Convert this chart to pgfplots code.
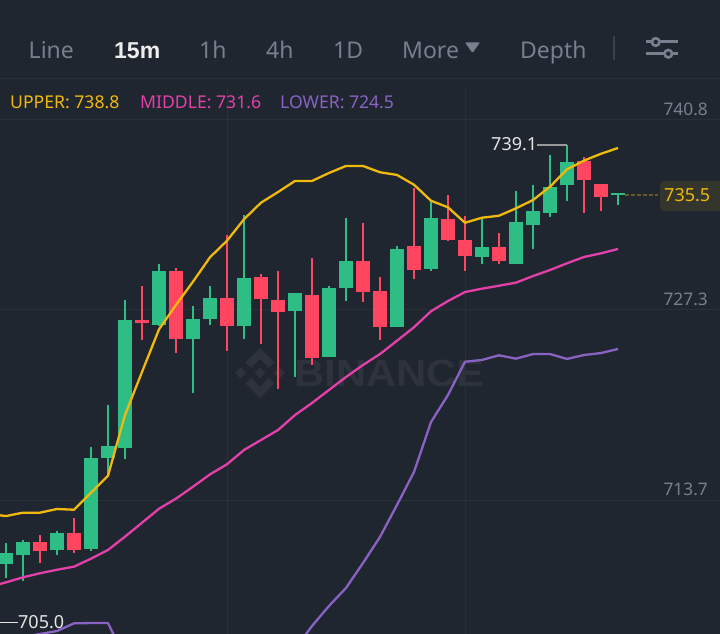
\documentclass[border=0pt]{standalone}
\usepackage{pgfplots}
\usepackage{pgfplotstable}
\usepackage{fontspec}
\setmainfont{Noto Sans}
\newfontfamily\boldf{Liberation Sans}
\pgfplotsset{compat=1.18}
\definecolor{bg}{HTML}{1F2630}
\definecolor{gridc}{HTML}{2A303A}
\definecolor{up}{HTML}{2EBD85}
\definecolor{down}{HTML}{FF4560}
\definecolor{yel}{HTML}{F0B90B}
\definecolor{mag}{HTML}{E440AA}
\definecolor{pur}{HTML}{8A62C4}
\definecolor{grayt}{HTML}{76808F}
\definecolor{wm}{HTML}{2E323C}
\pgfplotstableread{
x bot top low high
0 709.17 709.95 708.17 710.67
1 709.85 710.76 707.98 710.90
3 710.17 711.38 709.85 711.56
5 710.26 716.77 710.14 717.55
6 716.77 717.60 715.46 720.53
7 717.48 726.59 716.68 728.01
9 726.25 730.08 726.16 730.58
11 725.25 726.66 721.38 727.59
12 726.66 728.18 726.23 729.01
14 726.16 729.58 725.25 734.07
17 727.25 728.49 722.54 728.51
19 723.97 728.87 723.95 729.01
20 728.87 730.79 727.96 733.86
23 726.07 731.67 726.07 731.86
25 730.25 733.86 730.08 735.09
28 731.08 731.77 730.58 733.81
30 730.58 733.57 730.58 735.79
31 733.38 734.36 731.67 736.19
32 734.20 736.05 733.95 738.37
33 736.19 737.85 735.09 739.06
36 735.52 735.62 734.77 735.62
}\greentable
\pgfplotstableread{
x bot top low high
2 710.14 710.76 709.28 711.26
4 710.17 711.38 709.97 712.47
8 726.37 726.59 725.16 729.01
10 725.25 730.08 724.26 730.27
13 726.16 728.18 724.38 732.67
15 728.06 729.67 724.88 729.87
16 727.16 728.01 721.67 730.08
18 723.88 728.37 723.38 731.01
21 728.56 730.79 727.87 733.48
22 726.07 728.68 725.16 729.67
24 730.17 731.86 729.49 736.00
26 732.27 733.77 732.24 735.50
27 731.17 732.29 730.08 734.00
29 730.77 731.77 730.58 732.79
34 736.59 737.95 734.20 738.19
35 735.38 736.28 734.38 736.28
}\redtable
\pgfplotstableread{
x upper middle lower
-1 712.75 707.55 702.34
0 712.61 707.88 703.77
1 712.85 708.24 703.99
2 712.85 708.53 704.20
3 713.11 708.78 704.41
4 713.06 709.00 704.96
5 714.27 709.57 704.98
6 715.49 710.19 704.98
7 719.81 711.14 702.49
8 722.88 712.13 701.42
9 725.92 713.13 700.35
10 727.66 713.85 700.06
11 729.32 714.70 700.06
12 731.06 715.58 700.13
13 732.24 716.30 700.35
14 733.77 717.32 700.85
15 734.95 718.03 701.13
16 735.71 718.74 701.77
17 736.50 719.81 703.13
18 736.50 720.67 704.77
19 737.07 721.60 706.20
20 737.57 722.52 707.48
21 737.57 723.38 709.26
22 737.12 724.16 711.12
23 736.93 725.11 713.40
24 736.23 726.07 715.75
25 735.09 727.21 719.31
26 734.62 727.94 721.24
27 733.52 728.58 723.61
28 733.88 728.82 723.74
29 734.02 729.03 724.07
30 734.55 729.25 723.83
31 735.14 729.72 724.16
32 736.09 730.15 724.16
33 737.33 730.63 723.81
34 737.95 731.08 724.09
35 738.44 731.34 724.23
36 738.85 731.65 724.52
}\bandtable
\newcommand{\candles}[2]{%
 \addplot[draw=none,mark=none,forget plot,error bars/.cd,y dir=plus,y explicit,error mark=none,
   error bar style={line width=2pt,color=#2}]
   table[x=x,y=low,y error plus expr=\thisrow{high}-\thisrow{low}]{#1};
 \addplot[draw=none,mark=none,forget plot,error bars/.cd,y dir=plus,y explicit,error mark=none,
   error bar style={line width=14pt,color=#2}]
   table[x=x,y=bot,y error plus expr=\thisrow{top}-\thisrow{bot}]{#1};
}
\begin{document}
\begin{tikzpicture}[x=1pt,y=1pt]
\useasboundingbox (0,0) rectangle (720,634);
\fill[bg] (0,0) rectangle (720,634);
% watermark (pixel coordinates, y down)
\begin{scope}[shift={(0,634)},y=-1pt]
 \begin{scope}[shift={(260,373)}]
  \fill[wm] (0,-25)--(14.5,-10.5)--(9,-5)--(0,-14)--(-9,-5)--(-14.5,-10.5)--cycle;
  \fill[wm] (0,25)--(14.5,10.5)--(9,5)--(0,14)--(-9,5)--(-14.5,10.5)--cycle;
  \fill[wm] (0,-5.5)--(5.5,0)--(0,5.5)--(-5.5,0)--cycle;
  \fill[wm] (-19.3,-5.5)--(-13.8,0)--(-19.3,5.5)--(-24.8,0)--cycle;
  \fill[wm] (19.3,-5.5)--(24.8,0)--(19.3,5.5)--(13.8,0)--cycle;
 \end{scope}
 \node[anchor=base west,inner sep=0,text=wm,font=\fontsize{38}{38}\selectfont\boldf\bfseries] at (294,387) {\scalebox{1.1}[1]{BINANCE}};
\end{scope}
\begin{axis}[
  at={(0,0)},anchor=south west,
  scale only axis,width=720pt,height=634pt,
  xmin=-0.35294,xmax=42,ymin=704.199,ymax=749.403,
  axis line style={draw=none},
  tick style={draw=none},
  xtick={13,27},xticklabels={},
  ytick={713.75,727.3,740.85},yticklabels={713.7,727.3,740.8},
  yticklabel pos=right,
  yticklabel style={anchor=base east,inner sep=0pt,xshift=-12pt,yshift=4.5pt,text=grayt,font=\fontsize{17.3}{17.3}\selectfont},
  grid=major,grid style={color=gridc,line width=1pt},
  clip=true,
]
\candles{\greentable}{up}
\candles{\redtable}{down}
\addplot[color=yel,line width=2.3pt,line join=round] table[x=x,y=upper]{\bandtable};
\addplot[color=mag,line width=2.3pt,line join=round] table[x=x,y=middle]{\bandtable};
\addplot[color=pur,line width=2.3pt,line join=round] table[x=x,y=lower]{\bandtable};
% max, min and last-price leaders
\addplot[color=gray!80,line width=1.5pt] coordinates {(31.235,739.06)(33,739.06)};
\addplot[color=white!90!black,line width=1.2pt] coordinates {(-0.35,705.0)(0.7,705.0)};
\addplot[color=yel!35!bg,line width=2pt,dash pattern=on 4pt off 2pt] coordinates {(36.4,735.5)(38.35,735.5)};
\end{axis}
\begin{scope}[shift={(0,634)},y=-1pt]
 \fill[bg] (0,0) rectangle (720,88);
 \draw[gridc,line width=1pt] (0,78.5)--(720,78.5);
 % tabs
 \def\tabf{\fontsize{23}{23}\selectfont}
 \node[anchor=base west,inner sep=0,text=grayt,font=\tabf] at (28.5,58.5) {Line};
 \node[anchor=base west,inner sep=0,text=white!93!black,font=\fontsize{23}{23}\selectfont\boldf\bfseries] at (114,58.5) {15m};
 \node[anchor=base west,inner sep=0,text=grayt,font=\tabf] at (199,58.5) {1h};
 \node[anchor=base west,inner sep=0,text=grayt,font=\tabf] at (266,58.5) {4h};
 \node[anchor=base west,inner sep=0,text=grayt,font=\tabf] at (333,58.5) {1D};
 \node[anchor=base west,inner sep=0,text=grayt,font=\tabf] at (402,58.5) {More};
 \fill[grayt,rounded corners=1pt] (465,42.5)--(480,42.5)--(472.5,53)--cycle;
 \node[anchor=base west,inner sep=0,text=grayt,font=\tabf] at (520,58.5) {Depth};
 \draw[gridc!92!white,line width=1.5pt] (614,36)--(614,60);
 % settings icon
 \draw[grayt,line width=3pt] (646,42)--(678,42) (646,53.7)--(678,53.7);
 \fill[grayt] (655.7,42) circle (5.2) (668.3,53.7) circle (5.2);
 \fill[bg] (655.7,42) circle (2.2) (668.3,53.7) circle (2.2);
 % legend
 \def\legf{\fontsize{17.6}{17.6}\selectfont}
 \node[anchor=base west,inner sep=0,text=yel,font=\legf] at (10,108.5) {UPPER: 738.8};
 \node[anchor=base west,inner sep=0,text=mag,font=\legf] at (140,108.5) {MIDDLE: 731.6};
 \node[anchor=base west,inner sep=0,text=pur,font=\legf] at (280,108.5) {LOWER: 724.5};
 % value labels
 \def\valf{\fontsize{18}{18}\selectfont}
 \node[anchor=base west,inner sep=0,text=white!90!black,font=\valf] at (491,150.5) {739.1};
 \node[anchor=base west,inner sep=0,text=white!90!black,font=\valf] at (18,628.3) {705.0};
 \fill[yel!10!bg,rounded corners=4pt] (660,181) rectangle (725,211);
 \node[anchor=base west,inner sep=0,text=yel,font=\valf] at (664,202) {735.5};
\end{scope}
\end{tikzpicture}
\end{document}
